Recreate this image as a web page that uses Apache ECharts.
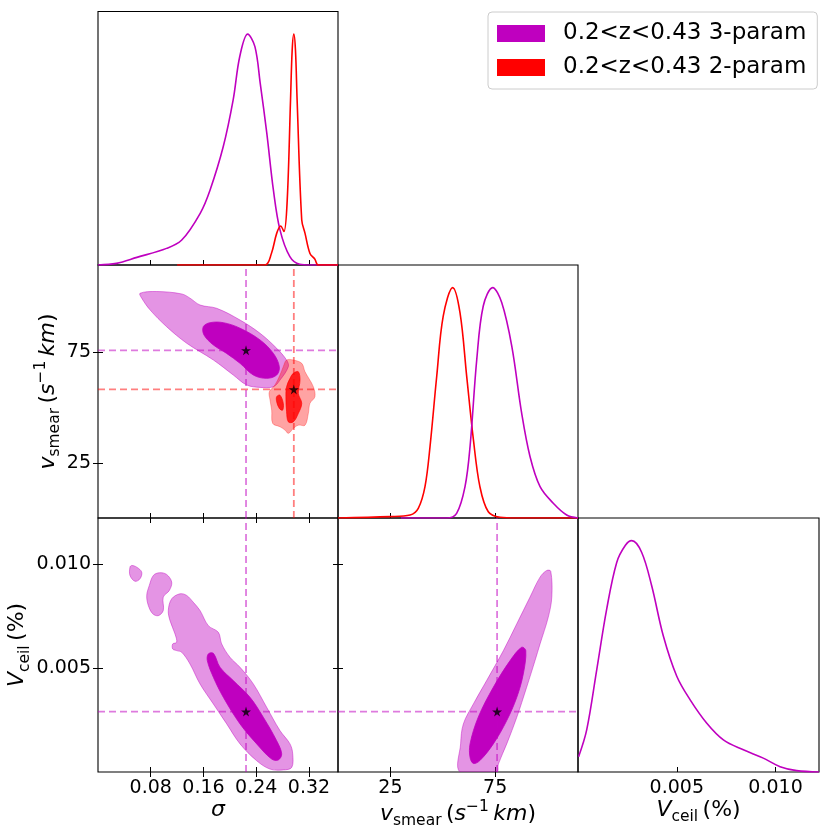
<!DOCTYPE html>
<html>
<head>
<meta charset="utf-8">
<script src="https://cdn.jsdelivr.net/npm/echarts@6/dist/echarts.min.js"></script>
<style>
  html, body { margin: 0; padding: 0; background: #fff; }
  #chart { width: 831px; height: 832px; }
</style>
</head>
<body>
<div id="chart"></div>
<script>
const FONT = 'DejaVu Sans';
const MAG = '#bf00bf';
const RED = '#ff0000';
const NAME3 = '0.2<z<0.43 3-param';
const NAME2 = '0.2<z<0.43 2-param';

// axis extents and ticks
const sigmaRange = [0, 0.364];
const vsmearRange = [0, 114.5];
const vceilRange = [0, 0.0122];
const pdfRange = [0, 1.098];
const sigmaTicks = [0.08, 0.16, 0.24, 0.32];
const vsmearTicks = [25, 75];
const vceilTicks = [0.005, 0.010];

// best fit values [3-param, 2-param]
const sigmaBest = [0.2245, 0.297];
const vsmearBest = [75.9, 58.2];
const vceilBest = [0.0029];

// 1D marginals (peak = 1)
const sigmaPdf3 = [[0, 0], [0.028, 0.007], [0.059, 0.033], [0.104, 0.072], [0.127, 0.108], [0.155, 0.224], [0.170, 0.325], [0.190, 0.513], [0.205, 0.715], [0.215, 0.903], [0.227, 1], [0.238, 0.946], [0.246, 0.788], [0.256, 0.571], [0.266, 0.325], [0.276, 0.152], [0.291, 0.036], [0.306, 0.003], [0.322, 0], [0.364, 0]];
const sigmaPdf2 = [[0.12, 0], [0.253, 0], [0.263, 0.05], [0.271, 0.137], [0.277, 0.169], [0.282, 0.145], [0.287, 0.282], [0.292, 0.715], [0.2945, 0.93], [0.297, 1], [0.2995, 0.93], [0.302, 0.715], [0.309, 0.195], [0.314, 0.137], [0.3215, 0.05], [0.329, 0.025], [0.334, 0], [0.364, 0]];
const vsmearPdf3 = [[30, 0], [51.9, 0], [56.6, 0.02], [60.6, 0.136], [63.0, 0.31], [66.2, 0.688], [69.3, 0.92], [73.8, 1], [78.1, 0.935], [82.9, 0.746], [87.6, 0.456], [91.6, 0.267], [96.4, 0.136], [102.7, 0.064], [109.1, 0.013], [114.5, 0]];
const vsmearPdf2 = [[0, 0], [24.8, 0.006], [34.4, 0.013], [38.3, 0.042], [41.5, 0.136], [43.9, 0.31], [47.1, 0.615], [50.2, 0.876], [54.7, 1], [58.2, 0.891], [61.4, 0.615], [64.6, 0.34], [67.7, 0.136], [71.7, 0.027], [77.3, 0.003], [85, 0], [114.5, 0]];
const vceilPdf3 = [[0.00003, 0.066], [0.00044, 0.182], [0.00095, 0.443], [0.00145, 0.703], [0.00196, 0.906], [0.0024, 0.98], [0.00272, 1], [0.00322, 0.95], [0.00373, 0.805], [0.00432, 0.588], [0.005, 0.414], [0.00567, 0.313], [0.00651, 0.212], [0.00736, 0.139], [0.00837, 0.096], [0.00938, 0.06], [0.01023, 0.023], [0.01107, 0.006], [0.0122, 0]];

// 2D contours (68% inner, 95% outer)
const sv3Outer = [[0.0637, 101.7], [0.089, 102.5], [0.127, 101.4], [0.1395, 99.5], [0.1547, 96.4], [0.18, 94.9], [0.2154, 89.6], [0.2457, 83.6], [0.271, 76.8], [0.286, 71.5], [0.2887, 68.5], [0.276, 62.4], [0.266, 59.4], [0.2457, 59.1], [0.2255, 60.2], [0.2052, 64.7], [0.175, 71.5], [0.1345, 79.1], [0.104, 86.6], [0.0789, 94.2], [0.0663, 99.5]];
const sv3Inner = [[0.1597, 86.6], [0.170, 88.4], [0.190, 88.4], [0.2154, 85.9], [0.2457, 80.6], [0.266, 74.5], [0.275, 68.5], [0.271, 64.7], [0.2558, 63.2], [0.2356, 64.7], [0.2154, 70.0], [0.195, 74.5], [0.175, 78.3], [0.1608, 82.8]];
const sv2Outer = [[0.286, 71.5], [0.2962, 71.5], [0.309, 70.0], [0.314, 66.2], [0.3266, 59.4], [0.329, 54.9], [0.3215, 51.9], [0.319, 47.3], [0.314, 42.0], [0.3038, 42.0], [0.2962, 40.5], [0.2887, 38.3], [0.2836, 39.8], [0.276, 41.3], [0.265, 42.8], [0.2634, 48.8], [0.2609, 53.4], [0.2598, 57.1], [0.2684, 60.2], [0.276, 64.7], [0.281, 68.5]];
const sv2InnerA = [[0.2962, 65.5], [0.3038, 66.2], [0.3064, 62.4], [0.3038, 56.4], [0.309, 51.9], [0.3038, 47.3], [0.2962, 43.5], [0.2887, 43.5], [0.286, 48.1], [0.285, 54.9], [0.286, 59.4], [0.2912, 63.2]];
const sv2InnerB = [[0.271, 54.9], [0.276, 55.6], [0.281, 51.9], [0.280, 48.8], [0.275, 49.6], [0.271, 52.6]];

const sc3OuterA = [[0.0511, 0.00992], [0.0587, 0.00984], [0.0663, 0.0096], [0.0637, 0.00928], [0.0561, 0.00916], [0.0485, 0.00944], [0.0485, 0.00984]];
const sc3OuterB = [[0.0839, 0.00944], [0.093, 0.00957], [0.104, 0.00949], [0.1118, 0.00912], [0.1082, 0.00872], [0.099, 0.0084], [0.099, 0.00776], [0.0915, 0.00751], [0.083, 0.0076], [0.0763, 0.008], [0.0739, 0.00848], [0.0778, 0.00896]];
const sc3OuterC = [[0.1066, 0.00776], [0.1118, 0.00832], [0.1244, 0.00856], [0.1345, 0.00848], [0.1446, 0.00815], [0.1547, 0.00776], [0.1673, 0.00703], [0.1825, 0.00671], [0.1876, 0.00615], [0.2002, 0.00551], [0.2154, 0.00503], [0.2356, 0.00423], [0.2558, 0.00311], [0.276, 0.00199], [0.2912, 0.00135], [0.2953, 0.00087], [0.2938, 0.00022], [0.281, 0.0001], [0.2609, 0.00014], [0.2407, 0.00054], [0.2154, 0.00135], [0.1952, 0.00231], [0.1749, 0.00327], [0.1547, 0.00423], [0.1395, 0.00519], [0.127, 0.00575], [0.1193, 0.00583], [0.1133, 0.00591], [0.1133, 0.00615], [0.1193, 0.00623], [0.1168, 0.00663], [0.1092, 0.00727]];
const sc3Inner = [[0.1673, 0.00567], [0.175, 0.0057], [0.1851, 0.00503], [0.2052, 0.00439], [0.2305, 0.00359], [0.2507, 0.00263], [0.271, 0.0015], [0.2786, 0.00087], [0.2735, 0.00058], [0.2634, 0.00062], [0.2407, 0.00135], [0.2154, 0.00231], [0.1901, 0.00359], [0.175, 0.00455], [0.1658, 0.00535]];

const vc3Outer = [[58.2, 0], [58.5, 0.00135], [59.8, 0.00231], [64.6, 0.00327], [70.9, 0.00439], [78.9, 0.00583], [85.3, 0.00712], [91.6, 0.0084], [96.4, 0.00936], [99.6, 0.00968], [101.5, 0.00964], [102.0, 0.0084], [100.3, 0.00743], [96.4, 0.00615], [94.0, 0.00535], [90.0, 0.00407], [85.3, 0.00263], [80.5, 0.00135], [76.5, 0.00038], [75.7, 0]];
const vc3Inner = [[63.0, 0.0007], [63.0, 0.00135], [66.9, 0.00263], [74.1, 0.00407], [82.1, 0.00535], [87.6, 0.00599], [89.6, 0.00583], [88.4, 0.00471], [85.3, 0.00359], [80.5, 0.00247], [74.1, 0.00135], [67.7, 0.00055], [64.6, 0.00041]];

const MAG_LIGHT = 'rgba(191,0,191,0.42)';
const MAG_EDGE = 'rgba(191,0,191,0.55)';
const RED_LIGHT = 'rgba(255,0,0,0.36)';
const RED_DARK = 'rgba(255,0,0,0.82)';
const MAG_DASH = 'rgba(191,0,191,0.52)';
const RED_DASH = 'rgba(255,0,0,0.5)';
const STAR = 'path://M50,0 L61,35 L98,35 L68,57 L79,91 L50,70 L21,91 L32,57 L2,35 L39,35 Z';

const nameRich = {
  i: { fontFamily: FONT, fontStyle: 'italic', fontSize: 22, lineHeight: 30, color: '#000' },
  n: { fontFamily: FONT, fontSize: 22, lineHeight: 30, color: '#000' },
  sp: { fontFamily: FONT, fontSize: 14, lineHeight: 30, color: '#000' },
  sub: { fontFamily: FONT, fontSize: 15.5, lineHeight: 18, verticalAlign: 'bottom', color: '#000' },
  sup: { fontFamily: FONT, fontSize: 15.5, lineHeight: 16, verticalAlign: 'top', color: '#000' },
};
const sigmaName = '{i|σ}';
const vsmearName = '{i|v}{sub|smear}{sp| }{n|(}{i|s}{sup|−1}{sp| }{i|km}{n|)}';
const vceilName = '{i|V}{sub|ceil}{sp| }{n|(%)}';

const chart = echarts.init(document.getElementById('chart'));

const grids = [
  { left: 98, top: 11.5, width: 240, height: 253.5 }, // sigma pdf
  { left: 98, top: 265, width: 240, height: 253 },    // sigma - vsmear
  { left: 338, top: 265, width: 240, height: 253 },   // vsmear pdf
  { left: 98, top: 518, width: 240, height: 254 },    // sigma - vceil
  { left: 338, top: 518, width: 240, height: 254 },   // vsmear - vceil
  { left: 578, top: 518, width: 241, height: 254 },   // vceil pdf
].map(g => Object.assign({ show: true, borderColor: '#000', borderWidth: 1.1, backgroundColor: 'transparent' }, g));

function axis(gridIndex, range, ticks, o) {
  o = o || {};
  const a = {
    type: 'value', gridIndex: gridIndex, min: range[0], max: range[1],
    show: o.show !== false, position: o.position,
    axisLine: { show: false },
    splitLine: { show: false },
    axisTick: { show: !!ticks, inside: true, length: 5, lineStyle: { color: '#000', width: 1 }, customValues: ticks || [] },
    axisLabel: { show: !!o.labels, customValues: ticks || [], margin: 7, color: '#000', fontSize: 19, fontFamily: FONT, formatter: o.fmt },
  };
  if (o.name) {
    a.name = o.name;
    a.nameLocation = 'middle';
    a.nameGap = o.gap;
    a.nameRotate = o.rotate;
    a.nameTextStyle = { rich: nameRich };
  }
  return a;
}
const fmtSigma = v => v.toFixed(2);
const fmtVsmear = v => String(v);
const fmtVceil = v => v.toFixed(3);

const xAxes = [
  axis(0, sigmaRange, sigmaTicks),                                   // 0
  axis(1, sigmaRange, sigmaTicks),                                   // 1
  axis(1, sigmaRange, sigmaTicks, { position: 'top' }),              // 2
  axis(2, vsmearRange, vsmearTicks),                                 // 3
  axis(3, sigmaRange, sigmaTicks, { labels: true, fmt: fmtSigma, name: sigmaName, gap: 22 }), // 4
  axis(3, sigmaRange, sigmaTicks, { position: 'top' }),              // 5
  axis(4, vsmearRange, vsmearTicks, { labels: true, fmt: fmtVsmear, name: vsmearName, gap: 20 }), // 6
  axis(4, vsmearRange, vsmearTicks, { position: 'top' }),            // 7
  axis(5, vceilRange, vceilTicks, { labels: true, fmt: fmtVceil, name: vceilName, gap: 21 }), // 8
];
const yAxes = [
  axis(0, pdfRange, null, { show: false }),                          // 0
  axis(1, vsmearRange, vsmearTicks, { labels: true, fmt: fmtVsmear, name: vsmearName, gap: 27, rotate: 90 }), // 1
  axis(1, vsmearRange, vsmearTicks, { position: 'right' }),          // 2
  axis(2, pdfRange, null, { show: false }),                          // 3
  axis(3, vceilRange, vceilTicks, { labels: true, fmt: fmtVceil, name: vceilName, gap: 54, rotate: 90 }), // 4
  axis(3, vceilRange, vceilTicks, { position: 'right' }),            // 5
  axis(4, vceilRange, vceilTicks),                                   // 6
  axis(4, vceilRange, vceilTicks, { position: 'right' }),            // 7
  axis(5, pdfRange, null, { show: false }),                          // 8
];

function curve(xi, yi, pts, color, name) {
  return {
    type: 'line', name: name, xAxisIndex: xi, yAxisIndex: yi, data: pts,
    showSymbol: false, smooth: 0.35, silent: true, z: 3,
    lineStyle: { color: color, width: 1.6 }, itemStyle: { color: color },
  };
}
function area(xi, yi, ring, fill, stroke) {
  return {
    type: 'custom', xAxisIndex: xi, yAxisIndex: yi, clip: true, silent: true, z: 2,
    data: [ring[0]],
    renderItem: (params, api) => ({
      type: 'polygon',
      shape: { points: ring.map(p => api.coord(p)), smooth: 0.35 },
      style: { fill: fill, stroke: stroke, lineWidth: 0.8 },
    }),
  };
}
function dashed(xi, yi, pts, color) {
  return {
    type: 'line', xAxisIndex: xi, yAxisIndex: yi, data: pts, showSymbol: false, silent: true, z: 5,
    lineStyle: { color: color, width: 1.8, type: [7, 4] },
  };
}
function star(xi, yi, pt) {
  return {
    type: 'scatter', xAxisIndex: xi, yAxisIndex: yi, data: [pt], symbol: STAR, symbolSize: 10,
    silent: true, z: 6, itemStyle: { color: '#000' },
  };
}

const series = [
  // diagonal marginals
  curve(0, 0, sigmaPdf3, MAG, NAME3),
  curve(0, 0, sigmaPdf2, RED, NAME2),
  curve(3, 3, vsmearPdf2, RED, NAME2),
  curve(3, 3, vsmearPdf3, MAG, NAME3),
  curve(8, 8, vceilPdf3, MAG, NAME3),

  // sigma vs vsmear
  area(1, 1, sv3Outer, MAG_LIGHT, MAG_EDGE),
  area(1, 1, sv3Inner, MAG, MAG),
  area(1, 1, sv2Outer, RED_LIGHT, RED_LIGHT),
  area(1, 1, sv2InnerA, RED_DARK, RED_DARK),
  area(1, 1, sv2InnerB, RED_DARK, RED_DARK),
  dashed(1, 1, [[sigmaBest[0], vsmearRange[0]], [sigmaBest[0], vsmearRange[1]]], MAG_DASH),
  dashed(1, 1, [[sigmaBest[1], vsmearRange[0]], [sigmaBest[1], vsmearRange[1]]], RED_DASH),
  dashed(1, 1, [[sigmaRange[0], vsmearBest[0]], [sigmaRange[1], vsmearBest[0]]], MAG_DASH),
  dashed(1, 1, [[sigmaRange[0], vsmearBest[1]], [sigmaRange[1], vsmearBest[1]]], RED_DASH),
  star(1, 1, [sigmaBest[0], vsmearBest[0]]),
  star(1, 1, [sigmaBest[1], vsmearBest[1]]),

  // sigma vs vceil
  area(4, 4, sc3OuterA, MAG_LIGHT, MAG_EDGE),
  area(4, 4, sc3OuterB, MAG_LIGHT, MAG_EDGE),
  area(4, 4, sc3OuterC, MAG_LIGHT, MAG_EDGE),
  area(4, 4, sc3Inner, MAG, MAG),
  dashed(4, 4, [[sigmaBest[0], vceilRange[0]], [sigmaBest[0], vceilRange[1]]], MAG_DASH),
  dashed(4, 4, [[sigmaRange[0], vceilBest[0]], [sigmaRange[1], vceilBest[0]]], MAG_DASH),
  star(4, 4, [sigmaBest[0], vceilBest[0]]),

  // vsmear vs vceil
  area(6, 6, vc3Outer, MAG_LIGHT, MAG_EDGE),
  area(6, 6, vc3Inner, MAG, MAG),
  dashed(6, 6, [[vsmearBest[0], vceilRange[0]], [vsmearBest[0], vceilRange[1]]], MAG_DASH),
  dashed(6, 6, [[vsmearRange[0], vceilBest[0]], [vsmearRange[1], vceilBest[0]]], MAG_DASH),
  star(6, 6, [vsmearBest[0], vceilBest[0]]),
];

const option = {
  animation: false,
  backgroundColor: '#fff',
  grid: grids,
  xAxis: xAxes,
  yAxis: yAxes,
  legend: {
    left: 488, top: 12, orient: 'vertical',
    itemWidth: 48, itemHeight: 17, itemGap: 11,
    padding: [10, 11, 10, 9],
    backgroundColor: '#fff', borderColor: '#ccc', borderWidth: 1, borderRadius: 4,
    icon: 'rect', selectedMode: false,
    textStyle: { fontSize: 23, fontFamily: FONT, color: '#000', padding: [0, 0, 0, 13] },
    data: [
      { name: NAME3, itemStyle: { color: MAG } },
      { name: NAME2, itemStyle: { color: RED } },
    ],
  },
  series: series,
};

chart.setOption(option);
window.onresize = function () {
  chart.resize();
};
</script>
</body>
</html>
